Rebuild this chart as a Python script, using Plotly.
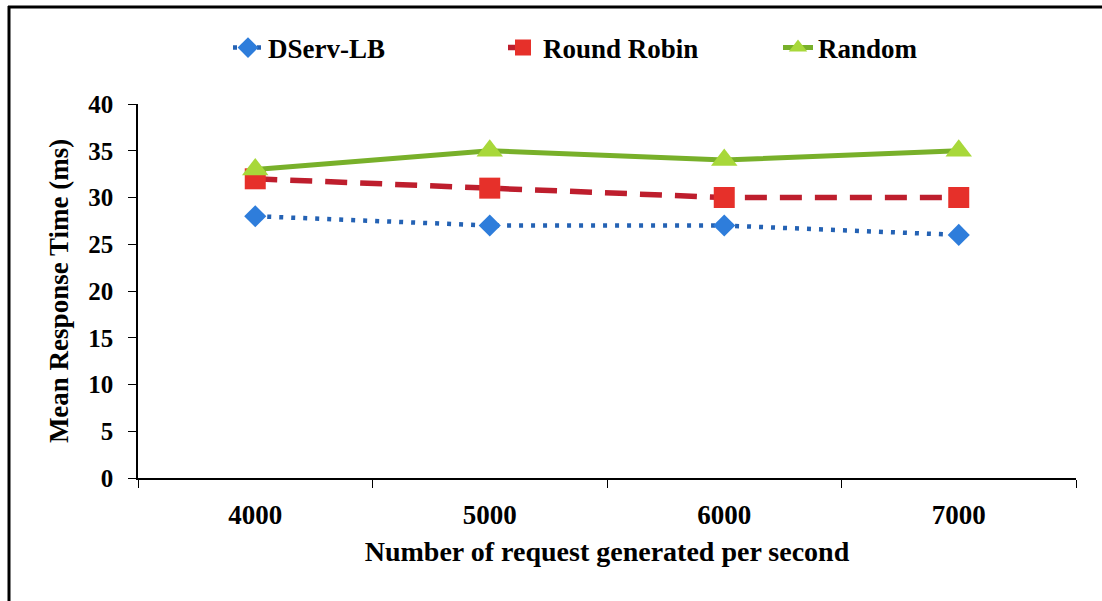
import plotly.graph_objects as go

categories = ["4000", "5000", "6000", "7000"]
dserv_lb = [28, 27, 27, 26]
round_robin = [32, 31, 30, 30]
random_lb = [33, 35, 34, 35]
y_ticks = [0, 5, 10, 15, 20, 25, 30, 35, 40]

W, H = 1102, 601
ML, MR, MT, MB = 138, 26, 104, 123
PW, PH = W - ML - MR, H - MT - MB

FONT = "Liberation Serif"

fig = go.Figure()
fig.add_trace(go.Scatter(
    x=categories, y=dserv_lb, name="DServ-LB", mode="lines+markers",
    line=dict(color="#2462B4", width=4.5, dash="4px,8px"),
    marker=dict(symbol="diamond", size=17, color="#2E7DDB"),
))
fig.add_trace(go.Scatter(
    x=categories, y=round_robin, name="Round Robin", mode="lines+markers",
    line=dict(color="#BE1E2D", width=5.5, dash="22px,13px"),
    marker=dict(symbol="square", size=21, color="#E6302A"),
))
fig.add_trace(go.Scatter(
    x=categories, y=random_lb, name="Random", mode="lines+markers",
    line=dict(color="#78B02A", width=5),
    marker=dict(symbol="triangle-up", size=23, color="#A8D83A"),
))

def px_to_paper_x(px):
    return (px - ML) / PW

def px_to_paper_y(py):
    return (H - MB - py) / PH

shapes = [
    dict(type="line", xref="paper", yref="paper",
         x0=px_to_paper_x(9), x1=px_to_paper_x(9),
         y0=px_to_paper_y(6), y1=px_to_paper_y(H + 5),
         line=dict(color="black", width=3)),
    dict(type="line", xref="paper", yref="paper",
         x0=px_to_paper_x(8), x1=px_to_paper_x(W + 5),
         y0=px_to_paper_y(7), y1=px_to_paper_y(7),
         line=dict(color="black", width=3)),
]

fig.update_layout(
    width=W, height=H,
    margin=dict(l=ML, r=MR, t=MT, b=MB),
    paper_bgcolor="white", plot_bgcolor="white",
    font=dict(family=FONT, size=24, color="black"),
    showlegend=True,
    legend=dict(
        orientation="h", xref="container", yref="container",
        x=228 / W, y=1 - 48 / H, xanchor="left", yanchor="middle",
        entrywidth=230, entrywidthmode="pixels",
        font=dict(family=FONT, size=27, color="black", weight="bold"),
    ),
    shapes=shapes,
    xaxis=dict(
        type="category", range=[-0.5, 3.5],
        showline=True, linecolor="black", linewidth=1.5,
        ticks="outside", tickson="boundaries", ticklen=8, tickcolor="black",
        tickfont=dict(family=FONT, size=27, weight="bold"),
        ticklabelstandoff=12,
        showgrid=False, zeroline=False,
        title=dict(text="Number of request generated per second",
                   font=dict(family=FONT, size=28, weight="bold"), standoff=12),
    ),
    yaxis=dict(
        range=[0, 40], tickvals=y_ticks,
        showline=True, linecolor="black", linewidth=1.5,
        ticks="outside", ticklen=8, tickcolor="black",
        tickfont=dict(family=FONT, size=25, weight="bold"),
        ticklabelstandoff=10,
        showgrid=False, zeroline=False,
        title=dict(text="Mean Response Time (ms)",
                   font=dict(family=FONT, size=27, weight="bold"), standoff=12),
    ),
)

fig.write_html("out.html", config={"displayModeBar": False},
               post_script="document.body.style.margin='0px';")
